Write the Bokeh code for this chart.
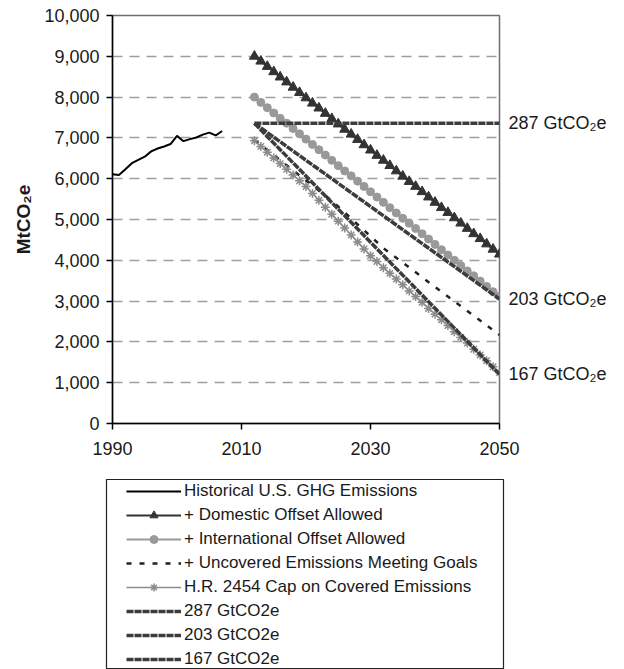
from bokeh.plotting import figure
from bokeh.models import (Range1d, FixedTicker, NumeralTickFormatter, LinearAxis,
                          CustomJSTickFormatter, Legend, LegendItem)
from bokeh.layouts import column
from bokeh.embed import file_html
from bokeh.resources import INLINE

FONT = "Liberation Sans"

# ---- data (MtCO2e per year) ----
hist_years = list(range(1990, 2008))
hist_vals = [6110, 6090, 6230, 6380, 6460, 6540, 6670, 6740, 6790, 6850,
             7050, 6920, 6970, 7010, 7080, 7130, 7060, 7170]

proj_years = list(range(2012, 2051))
domestic = [9000, 8880, 8750, 8620, 8490, 8370, 8240, 8110, 7980, 7850,
            7730, 7600, 7470, 7340, 7210, 7090, 6960, 6830, 6700, 6570,
            6450, 6320, 6190, 6060, 5930, 5810, 5680, 5550, 5420, 5290,
            5170, 5040, 4910, 4780, 4650, 4530, 4400, 4270, 4150]
international = [8000, 7870, 7740, 7610, 7480, 7360, 7230, 7100, 6970, 6840,
                 6710, 6580, 6450, 6320, 6190, 6070, 5940, 5810, 5680, 5550,
                 5420, 5290, 5160, 5030, 4910, 4780, 4650, 4520, 4390, 4260,
                 4130, 4000, 3870, 3740, 3620, 3490, 3360, 3230, 3120]
cap = [6930, 6790, 6650, 6510, 6370, 6230, 6090, 5950, 5810, 5640,
       5470, 5300, 5130, 4960, 4790, 4620, 4450, 4280, 4110, 3970,
       3820, 3680, 3540, 3400, 3250, 3110, 2970, 2820, 2680, 2540,
       2400, 2250, 2110, 1970, 1820, 1680, 1540, 1390, 1250]

uncovered_years = [2012, 2024, 2032, 2042, 2050]
uncovered = [6950, 5460, 4300, 3110, 2170]

# cumulative 2012-2050 budgets, GtCO2e
budget_totals_gt = [287, 203, 167]
budget_labels = ["287 GtCO\u2082e", "203 GtCO\u2082e", "167 GtCO\u2082e"]

legend_labels = ["Historical U.S. GHG Emissions",
                 "+ Domestic Offset Allowed",
                 "+ International Offset Allowed",
                 "+ Uncovered Emissions Meeting Goals",
                 "H.R. 2454 Cap on Covered Emissions",
                 "287 GtCO2e", "203 GtCO2e", "167 GtCO2e"]

x_ticks = [1990, 2010, 2030, 2050]
y_ticks = list(range(0, 10001, 1000))

# straight-line paths over 2012-2050 whose yearly values add up to each budget;
# the largest budget is held flat, the others start at that level and fall
n_years = len(proj_years)
start_level = budget_totals_gt[0] * 1000 / n_years
budget_ends = [2 * t * 1000 / n_years - start_level for t in budget_totals_gt]
budget_ends[0] = start_level
budget_x = [proj_years[0], proj_years[-1]]

BUDGET_STYLE = dict(line_color="#3c3c3c", line_width=3.5, line_dash="7 1")


def draw_series(fig, sample=False):
    """Add every series to fig; returns renderer lists in legend order.

    With sample=True each series gets a single off-range point, so the
    renderers only serve as legend swatches.
    """
    def xy(xs, ys):
        return ([-1], [-1]) if sample else (xs, ys)

    out = []
    out.append([fig.line(*xy(hist_years, hist_vals),
                         line_color="black", line_width=2)])
    out.append([fig.line(*xy(proj_years, domestic),
                         line_color="#333333", line_width=2),
                fig.scatter(*xy(proj_years, domestic), marker="triangle",
                            size=10 if not sample else 8,
                            fill_color="#333333", line_color="#333333")])
    out.append([fig.line(*xy(proj_years, international),
                         line_color="#999999", line_width=2),
                fig.scatter(*xy(proj_years, international), marker="circle",
                            size=8 if not sample else 6,
                            fill_color="#999999", line_color="#999999")])
    out.append([fig.line(*xy(uncovered_years, uncovered),
                         line_color="#222222", line_width=2.5, line_dash="5 8")])
    out.append([fig.line(*xy(proj_years, cap),
                         line_color="#8c8c8c", line_width=1.5),
                fig.scatter(*xy(proj_years, cap), marker="asterisk",
                            size=9 if not sample else 7,
                            line_color="#8c8c8c", line_width=1.5)])
    for end in budget_ends:
        out.append([fig.line(*xy(budget_x, [start_level, end]), **BUDGET_STYLE)])
    return out


# ---- main chart ----
main = figure(width=624, height=470, x_range=Range1d(1990, 2050),
              y_range=Range1d(0, 10000), output_backend="svg",
              toolbar_location=None, min_border_left=112, min_border_right=125,
              min_border_top=15, min_border_bottom=47)
main.frame_align = False
main.outline_line_color = "#6e6e6e"
main.outline_line_width = 1.5

main.xgrid.visible = False
main.ygrid.ticker = FixedTicker(ticks=y_ticks)
main.ygrid.grid_line_color = "#9e9e9e"
main.ygrid.grid_line_width = 1.5
main.ygrid.grid_line_dash = "10 7"

main.xaxis.ticker = FixedTicker(ticks=x_ticks)
main.yaxis.ticker = FixedTicker(ticks=y_ticks)
main.yaxis.formatter = NumeralTickFormatter(format="0,0")
for ax in (main.xaxis[0], main.yaxis[0]):
    ax.axis_line_color = "black"
    ax.axis_line_width = 1.5
    ax.major_tick_line_color = "black"
    ax.major_tick_line_width = 1.5
    ax.major_tick_out = 6
    ax.major_tick_in = 0
    ax.minor_tick_line_color = None
    ax.major_label_text_font = FONT
    ax.major_label_text_font_size = "18px"
    ax.major_label_text_color = "#1a1a1a"
main.xaxis.major_label_standoff = 12
main.yaxis.major_label_standoff = 7
main.yaxis.axis_label = "MtCO\u2082e"
main.yaxis.axis_label_text_font = FONT
main.yaxis.axis_label_text_font_size = "19px"
main.yaxis.axis_label_text_font_style = "bold"
main.yaxis.axis_label_text_color = "#1a1a1a"
main.yaxis.axis_label_standoff = 7

draw_series(main)

# budget names on the right, level with where each budget path ends
budget_axis = LinearAxis(
    ticker=FixedTicker(ticks=budget_ends),
    formatter=CustomJSTickFormatter(
        args=dict(ends=budget_ends, labels=budget_labels),
        code="const i = ends.indexOf(tick); return i >= 0 ? labels[i] : '';"),
    axis_line_color=None, major_tick_line_color=None,
    minor_tick_line_color=None, major_tick_out=0, major_tick_in=0,
    major_label_standoff=9, major_label_text_font=FONT,
    major_label_text_font_size="18px", major_label_text_color="#1a1a1a")
main.add_layout(budget_axis, "right")

# ---- legend panel ----
leg = figure(width=624, height=199, x_range=Range1d(0, 1), y_range=Range1d(0, 1),
             output_backend="svg", toolbar_location=None,
             x_axis_location=None, y_axis_location=None,
             min_border_left=106, min_border_right=121,
             min_border_top=9, min_border_bottom=0)
leg.frame_align = False
leg.grid.visible = False
leg.outline_line_color = "#222222"
leg.outline_line_width = 1.2

samples = draw_series(leg, sample=True)
legend = Legend(items=[LegendItem(label=lab, renderers=rs)
                       for lab, rs in zip(legend_labels, samples)],
                location=(20, 0), padding=0, margin=0, spacing=4,
                glyph_width=55, glyph_height=20, label_height=20,
                label_standoff=3, label_text_font=FONT,
                label_text_font_size="17px", label_text_color="#1a1a1a",
                border_line_alpha=0, background_fill_alpha=0)
leg.add_layout(legend)

layout = column(main, leg)
open("out.html", "w").write(file_html(layout, INLINE))
